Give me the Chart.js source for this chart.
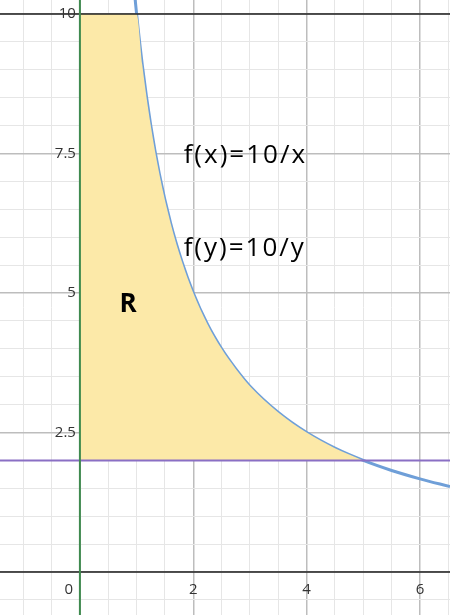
<!DOCTYPE html>
<html>
<head>
<meta charset="utf-8">
<script src="https://cdn.jsdelivr.net/npm/chart.js@4"></script>
<style>
  html, body { margin: 0; padding: 0; background: #fff; }
  #wrap { width: 450px; height: 615px; }
</style>
</head>
<body>
<div id="wrap"><canvas id="c"></canvas></div>
<script>
// curve f(x)=10/x, values read as points
var curveX = [0.97, 1, 1.1, 1.25, 1.4, 1.6, 1.8, 2, 2.25, 2.5, 2.75, 3, 3.5, 4, 4.5, 5, 5.5, 6, 6.53];
var curveY = [10.31, 10, 9.09, 8, 7.14, 6.25, 5.56, 5, 4.44, 4, 3.64, 3.33, 2.86, 2.5, 2.22, 2, 1.82, 1.67, 1.53];
// region R top boundary
var regionX = [0, 1, 1.1, 1.25, 1.4, 1.6, 1.8, 2, 2.25, 2.5, 2.75, 3, 3.5, 4, 4.5, 5];
var regionY = [10, 10, 9.09, 8, 7.14, 6.25, 5.56, 5, 4.44, 4, 3.64, 3.33, 2.86, 2.5, 2.22, 2];
var lowerLine = 2;
var xTickLabels = ['0', '2', '4', '6'];
var xTickValues = [0, 2, 4, 6];
var yTickLabels = ['2.5', '5', '7.5', '10'];
var yTickValues = [2.5, 5, 7.5, 10];
var labels = [
  { text: 'f(x)=10/x', x: 1.83, y: 7.47, bold: false },
  { text: 'f(y)=10/y', x: 1.83, y: 5.8, bold: false },
  { text: 'R', x: 0.7, y: 4.8, bold: true }
];

function pts(xs, ys) {
  return xs.map(function (x, i) { return { x: x, y: ys[i] }; });
}

var overlay = {
  id: 'overlay',
  afterDatasetsDraw: function (chart) {
    var ctx = chart.ctx, xs = chart.scales.x, ys = chart.scales.y;
    ctx.save();
    function hline(v, color, w) {
      ctx.strokeStyle = color; ctx.lineWidth = w; ctx.beginPath();
      ctx.moveTo(xs.left, ys.getPixelForValue(v)); ctx.lineTo(xs.right, ys.getPixelForValue(v)); ctx.stroke();
    }
    hline(0, '#222', 1.5);
    hline(10, '#222', 1.5);
    hline(lowerLine, '#8a6fc4', 2);
    ctx.strokeStyle = '#3f8a4f'; ctx.lineWidth = 2; ctx.beginPath();
    ctx.moveTo(xs.getPixelForValue(0), ys.top); ctx.lineTo(xs.getPixelForValue(0), ys.bottom); ctx.stroke();

    ctx.fillStyle = '#333';
    ctx.font = '15px "Open Sans", sans-serif';
    ctx.textAlign = 'center'; ctx.textBaseline = 'middle';
    xTickLabels.forEach(function (t, i) {
      var px = xs.getPixelForValue(xTickValues[i]);
      if (xTickValues[i] === 0) px -= 11;
      ctx.fillText(t, px, ys.getPixelForValue(0) + 18);
    });
    ctx.textAlign = 'right';
    yTickLabels.forEach(function (t, i) {
      ctx.fillText(t, xs.getPixelForValue(0) - 4, ys.getPixelForValue(yTickValues[i]));
    });
    ctx.fillStyle = '#000';
    ctx.textAlign = 'left';
    labels.forEach(function (l) {
      ctx.font = (l.bold ? 'bold ' : '') + '26px "Open Sans", sans-serif';
      ctx.letterSpacing = l.bold ? '0px' : '2px';
      ctx.fillText(l.text, xs.getPixelForValue(l.x), ys.getPixelForValue(l.y));
    });
    ctx.restore();
  }
};

new Chart(document.getElementById('c'), {
  type: 'scatter',
  data: {
    datasets: [{
      data: pts(regionX, regionY),
      showLine: true,
      borderWidth: 0,
      borderColor: 'rgba(0,0,0,0)',
      backgroundColor: '#fce9a8',
      pointRadius: 0,
      cubicInterpolationMode: 'monotone',
      fill: { value: lowerLine }
    }, {
      data: pts(curveX, curveY),
      showLine: true,
      borderWidth: 3,
      borderColor: '#6f9fd8',
      pointRadius: 0,
      cubicInterpolationMode: 'monotone',
      fill: false
    }]
  },
  options: {
    responsive: true,
    maintainAspectRatio: false,
    animation: false,
    layout: { padding: 0 },
    plugins: { legend: { display: false }, tooltip: { enabled: false } },
    scales: {
      x: {
        type: 'linear', min: -1.41, max: 6.53,
        border: { display: false },
        ticks: { display: false, stepSize: 0.5, includeBounds: false },
        grid: {
          drawTicks: false,
          color: function (c) { return Math.abs(c.tick.value % 2) < 1e-6 ? '#bdbdbd' : '#e6e6e6'; },
          lineWidth: function (c) { return Math.abs(c.tick.value % 2) < 1e-6 ? 1.5 : 1; }
        }
      },
      y: {
        type: 'linear', min: -0.77, max: 10.25,
        border: { display: false },
        ticks: { display: false, stepSize: 0.5, includeBounds: false },
        grid: {
          drawTicks: false,
          color: function (c) { return Math.abs(c.tick.value % 2.5) < 1e-6 ? '#bdbdbd' : '#e6e6e6'; },
          lineWidth: function (c) { return Math.abs(c.tick.value % 2.5) < 1e-6 ? 1.5 : 1; }
        }
      }
    }
  },
  plugins: [overlay]
});
</script>
</body>
</html>
